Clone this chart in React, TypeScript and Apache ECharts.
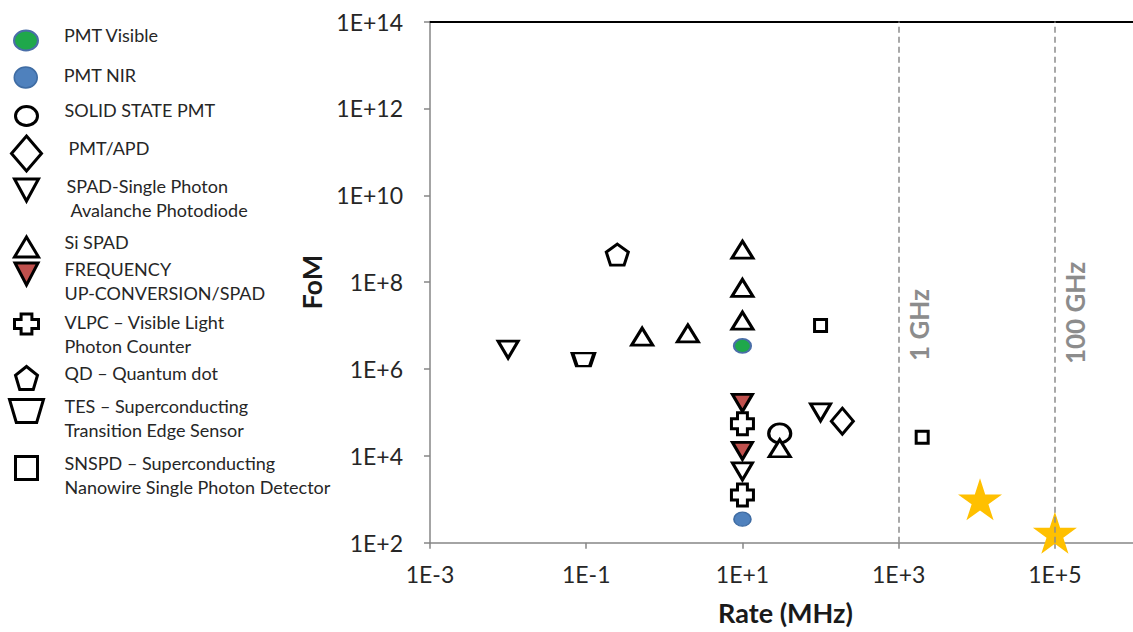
import React, { useEffect, useRef } from 'react';
import * as echarts from 'echarts';

type Pt = [number, number];

const FONT = 'Lato, "Open Sans", sans-serif';

// Each detector class: [count rate in MHz, figure of merit]
const pmtVisible: Pt[] = [[10, 3.4e6]];
const pmtNir: Pt[] = [[10, 350]];
const solidStatePmt: Pt[] = [[30, 3.3e4]];
const pmtApd: Pt[] = [[190, 6.3e4]];
const spad: Pt[] = [[0.01, 2.8e6], [10, 4.4e3], [100, 1e5]];
const siSpad: Pt[] = [[0.52, 5.6e6], [2, 6.6e6], [10, 5.6e8], [10, 7.4e7], [10, 1.3e7], [30, 1.5e4]];
const freqUpConversion: Pt[] = [[10, 1.66e5], [10, 1.3e4]];
const vlpc: Pt[] = [[10, 5.5e4], [10, 1.26e3]];
const quantumDot: Pt[] = [[0.25, 4.3e8]];
const tes: Pt[] = [[0.092, 1.65e6]];
const snspd: Pt[] = [[100, 1e7], [2000, 2.7e4]];
const targets: Pt[] = [[1.1e4, 1e3], [1e5, 170]];

// Axis extents (decades) and reference frequencies
const rateRange: Pt = [1e-3, 1e6];
const fomRange: Pt = [1e2, 1e14];
const frequencyMarks = [
  { label: '1 GHz', rate: 1e3 },
  { label: '100 GHz', rate: 1e5 },
];

const SYM = {
  ellipse: 'path://M0,1A1,1 0 1 1 2,1A1,1 0 1 1 0,1Z',
  down: 'path://M0,0L2,0L1,1.732Z',
  cross: 'path://M0.55,0H1.45V0.55H2V1.45H1.45V2H0.55V1.45H0V0.55H0.55Z',
  pentagon: 'path://M1,0L1.951,0.691L1.588,1.809L0.412,1.809L0.049,0.691Z',
  trapezoid: 'path://M0,0H10L8,6.5H2Z',
  star: 'path://M0,-1L0.2245,-0.309L0.951,-0.309L0.363,0.118L0.588,0.809L0,0.382L-0.588,0.809L-0.363,0.118L-0.951,-0.309L-0.2245,-0.309Z',
};

type Def = {
  name: string;
  label: string;
  data: Pt[];
  symbol: string;
  size: [number, number];
  fill: string;
  stroke: string;
  bw: number;
  // legend layout
  cy: number;
  iw: number;
  ih: number;
  dy: number;
  dx: number;
};

const defs: Def[] = [
  { name: 'PMT Visible', label: 'PMT Visible', data: pmtVisible, symbol: SYM.ellipse, size: [17, 14], fill: '#1fa84b', stroke: '#4a6ea8', bw: 2, cy: 40.5, iw: 24, ih: 20, dy: -6, dx: 0 },
  { name: 'PMT NIR', label: 'PMT NIR', data: pmtNir, symbol: SYM.ellipse, size: [17, 14], fill: '#4f81bd', stroke: '#3f6ca3', bw: 1.5, cy: 77.5, iw: 23, ih: 21, dy: -3, dx: 0 },
  { name: 'SOLID STATE PMT', label: 'SOLID STATE PMT', data: solidStatePmt, symbol: SYM.ellipse, size: [22, 19], fill: '#ffffff', stroke: '#000000', bw: 3, cy: 116, iw: 22, ih: 19, dy: -6, dx: 0 },
  { name: 'PMT/APD', label: 'PMT/APD', data: pmtApd, symbol: 'diamond', size: [22, 26], fill: '#ffffff', stroke: '#000000', bw: 3, cy: 152, iw: 30, ih: 35, dy: -6, dx: 4 },
  { name: 'SPAD', label: 'SPAD-Single Photon\n Avalanche Photodiode', data: spad, symbol: SYM.down, size: [20, 17], fill: '#ffffff', stroke: '#000000', bw: 3, cy: 190, iw: 24, ih: 22, dy: 8, dx: 2 },
  { name: 'Si SPAD', label: 'Si SPAD', data: siSpad, symbol: 'triangle', size: [21, 17], fill: '#ffffff', stroke: '#000000', bw: 3, cy: 247, iw: 24, ih: 20, dy: -5.5, dx: 0 },
  { name: 'FREQUENCY UP-CONVERSION/SPAD', label: 'FREQUENCY\nUP-CONVERSION/SPAD', data: freqUpConversion, symbol: SYM.down, size: [20, 17], fill: '#c0504d', stroke: '#000000', bw: 3, cy: 274, iw: 23, ih: 22, dy: 7, dx: 0 },
  { name: 'VLPC', label: 'VLPC – Visible Light\nPhoton Counter', data: vlpc, symbol: SYM.cross, size: [22, 22], fill: '#ffffff', stroke: '#000000', bw: 3, cy: 324, iw: 24, ih: 20, dy: 10, dx: 0 },
  { name: 'QD', label: 'QD – Quantum dot', data: quantumDot, symbol: SYM.pentagon, size: [22, 21], fill: '#ffffff', stroke: '#000000', bw: 3, cy: 378, iw: 22, ih: 23, dy: -5, dx: 0 },
  { name: 'TES', label: 'TES – Superconducting\nTransition Edge Sensor', data: tes, symbol: SYM.trapezoid, size: [22, 13], fill: '#ffffff', stroke: '#000000', bw: 3, cy: 411, iw: 34, ih: 23, dy: 6.5, dx: 0 },
  { name: 'SNSPD', label: 'SNSPD – Superconducting\nNanowire Single Photon Detector', data: snspd, symbol: 'rect', size: [12, 12], fill: '#ffffff', stroke: '#000000', bw: 3, cy: 468, iw: 22, ih: 23, dy: 7, dx: 0 },
];

const LEGEND_LINE = 24;
const LEGEND_FONT = 18;
const ICON_CX = 25;
const TEXT_X = 63;

const toLog = (pts: Pt[]) => pts.map(([r, f]) => [Math.log10(r), Math.log10(f)]);
const expLabel = (v: number) => `1E${v < 0 ? '-' : '+'}${Math.abs(Math.round(v))}`;

function legendFor(d: Def) {
  const lines = d.label.split('\n');
  // every line is nudged by dy against the icon: top padding pushes it down,
  // bottom padding lifts it; the line pitch stays at LEGEND_LINE
  const pt = d.dy > 0 ? 2 * d.dy : 0;
  const pb = d.dy < 0 ? -2 * d.dy : 0;
  const blockTop = d.ih / 2 - (lines.length * LEGEND_LINE) / 2;
  const tokenTop = blockTop + LEGEND_LINE / 2 - (LEGEND_FONT + pt + pb) / 2;
  const boxTop = Math.min(0, blockTop, tokenTop);
  const top = d.cy - d.ih / 2 + boxTop;
  const padLeft = TEXT_X + d.dx - (ICON_CX + d.iw / 2 + 5);
  const base = { fontFamily: FONT, fontSize: LEGEND_FONT, color: '#262626', lineHeight: LEGEND_LINE };
  const rich: Record<string, any> = {
    ln: { ...base, padding: [pt, 0, pb, padLeft] },
  };
  const text = lines.map((l) => `{ln|${l}}`).join('\n');
  return {
    data: [d.name],
    orient: 'vertical',
    left: ICON_CX - d.iw / 2,
    top,
    padding: 0,
    itemWidth: d.iw,
    itemHeight: d.ih,
    symbolKeepAspect: false,
    selectedMode: false,
    icon: d.symbol,
    formatter: () => text,
    itemStyle: { color: d.fill, borderColor: d.stroke, borderWidth: d.bw },
    textStyle: { ...base, rich },
  };
}

export default function App() {
  const ref = useRef<HTMLDivElement>(null);

  useEffect(() => {
    if (!ref.current) return;
    const chart = echarts.init(ref.current, undefined, { renderer: 'svg' });

    const xMin = Math.log10(rateRange[0]);
    const xMax = Math.log10(rateRange[1]);
    const yMin = Math.log10(fomRange[0]);
    const yMax = Math.log10(fomRange[1]);

    const series: any[] = defs.map((d) => ({
      type: 'scatter',
      name: d.name,
      data: toLog(d.data),
      symbol: d.symbol,
      symbolSize: d.size,
      itemStyle: { color: d.fill, borderColor: d.stroke, borderWidth: d.bw, opacity: 1 },
      emphasis: { disabled: true },
    }));

    series.push({
      type: 'scatter',
      name: 'targets',
      data: toLog(targets),
      symbol: SYM.star,
      symbolSize: [44, 42],
      itemStyle: { color: '#ffc000', borderWidth: 0, opacity: 1 },
      emphasis: { disabled: true },
      z: 3,
      markLine: {
        silent: true,
        symbol: 'none',
        animation: false,
        label: { show: false },
        lineStyle: { type: [6, 4], color: '#8c8c8c', width: 1.5 },
        data: frequencyMarks.map((m) => ({ xAxis: Math.log10(m.rate) })),
      },
    });

    const axisColor = '#868686';

    chart.setOption({
      animation: false,
      backgroundColor: '#ffffff',
      grid: { left: 430, top: 21.5, width: 705.6, height: 521.3, containLabel: false },
      legend: defs.map(legendFor),
      xAxis: [
        {
          type: 'value',
          min: xMin,
          max: xMax,
          interval: 2,
          axisLine: { show: true, onZero: false, lineStyle: { color: axisColor, width: 1.5 } },
          axisTick: { show: true, length: 6, lineStyle: { color: axisColor, width: 1.5 } },
          axisLabel: {
            formatter: (v: number) => expLabel(v),
            showMaxLabel: false,
            fontFamily: FONT,
            fontSize: 23,
            color: '#262626',
            margin: 20,
          },
          splitLine: { show: false },
          name: 'Rate (MHz)',
          nameLocation: 'middle',
          nameGap: 56,
          nameTextStyle: { fontFamily: FONT, fontSize: 27, fontWeight: 'bold', color: '#1a1a1a', padding: [0, 0, 0, 8] },
        },
        {
          type: 'value',
          position: 'top',
          min: xMin,
          max: xMax,
          axisLine: { show: true, onZero: false, lineStyle: { color: '#000000', width: 2 } },
          axisTick: { show: false },
          axisLabel: { show: false },
          splitLine: { show: false },
        },
      ],
      yAxis: {
        type: 'value',
        min: yMin,
        max: yMax,
        interval: 2,
        axisLine: { show: true, onZero: false, lineStyle: { color: axisColor, width: 1.5 } },
        axisTick: { show: true, length: 6, lineStyle: { color: axisColor, width: 1.5 } },
        axisLabel: {
          formatter: (v: number) => expLabel(v),
          fontFamily: FONT,
          fontSize: 23,
          color: '#262626',
          margin: 27,
        },
        splitLine: { show: false },
        name: 'FoM',
        nameLocation: 'middle',
        nameGap: 80,
        nameRotate: 90,
        nameTextStyle: { fontFamily: FONT, fontSize: 27, fontWeight: 'bold', color: '#1a1a1a' },
      },
      series,
    });

    // Rotated captions beside the reference-frequency lines
    const captionCenters = [325, 313];
    chart.setOption({
      graphic: frequencyMarks.map((m, i) => {
        const px = chart.convertToPixel({ xAxisIndex: 0 }, Math.log10(m.rate)) as number;
        return {
          type: 'text',
          x: px + 20,
          y: captionCenters[i],
          rotation: Math.PI / 2,
          silent: true,
          style: {
            text: m.label,
            fontFamily: FONT,
            fontSize: 26,
            fontWeight: 'bold',
            fill: '#8c8c8c',
            align: 'center',
            verticalAlign: 'middle',
          },
        };
      }),
    });

    return () => chart.dispose();
  }, []);

  return (
    <div
      ref={ref}
      style={{ position: 'fixed', left: 0, top: 0, width: 1133, height: 632, background: '#ffffff' }}
    />
  );
}
